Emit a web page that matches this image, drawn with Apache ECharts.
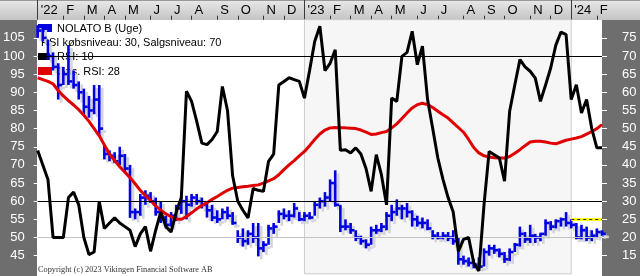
<!DOCTYPE html>
<html><head><meta charset="utf-8">
<script src="https://cdn.jsdelivr.net/npm/echarts@6/dist/echarts.min.js"></script>
<style>html,body{margin:0;padding:0;background:#fff}#c{width:640px;height:276px}</style>
</head><body><div id="c"></div>
<script>
const weeks = [
"2022-01-03","2022-01-10","2022-01-17","2022-01-24","2022-01-31","2022-02-07","2022-02-14","2022-02-21","2022-02-28","2022-03-07","2022-03-14","2022-03-21","2022-03-28","2022-04-04","2022-04-11","2022-04-18","2022-04-25","2022-05-02","2022-05-09","2022-05-16","2022-05-23","2022-05-30","2022-06-06","2022-06-13","2022-06-20","2022-06-27","2022-07-04","2022-07-11","2022-07-18","2022-07-25","2022-08-01","2022-08-08","2022-08-15","2022-08-22","2022-08-29","2022-09-05","2022-09-12","2022-09-19","2022-09-26","2022-10-03","2022-10-10","2022-10-17","2022-10-24","2022-10-31","2022-11-07","2022-11-14","2022-11-21","2022-11-28","2022-12-05","2022-12-12","2022-12-19","2022-12-26",
"2023-01-02","2023-01-09","2023-01-16","2023-01-23","2023-01-30","2023-02-06","2023-02-13","2023-02-20","2023-02-27","2023-03-06","2023-03-13","2023-03-20","2023-03-27","2023-04-03","2023-04-10","2023-04-17","2023-04-24","2023-05-01","2023-05-08","2023-05-15","2023-05-22","2023-05-29","2023-06-05","2023-06-12","2023-06-19","2023-06-26","2023-07-03","2023-07-10","2023-07-17","2023-07-24","2023-07-31","2023-08-07","2023-08-14","2023-08-21","2023-08-28","2023-09-04","2023-09-11","2023-09-18","2023-09-25","2023-10-02","2023-10-09","2023-10-16","2023-10-23","2023-10-30","2023-11-06","2023-11-13","2023-11-20","2023-11-27","2023-12-04","2023-12-11","2023-12-18","2023-12-25",
"2024-01-01","2024-01-08","2024-01-15","2024-01-22","2024-01-29","2024-02-05","2024-02-12"];
const monthLetters = ['J','F','M','A','M','J','J','A','S','O','N','D'];

const priceHigh = [
108.5,108,104.5,101,98,97,103,96,93,91,
89,92,92,75.5,74,73.5,75,73,70,58,
62,63,62.5,61,60,56,57,59,61,61.5,
62,62,61,59.5,59,57.5,58,58.5,57,52,
52.5,52,54,54,49,53.5,54,57.5,58,57.5,
59.5,57,57,57,60,61,62.5,66,68.5,59,
55,54,52,50.5,49.5,53,53.5,54,57,59,
60.5,59,59.5,57.5,56,55.5,55,52,51.5,51.5,
51.5,52,50,45,44.5,44,44.5,47,48,48,
47,46,47,48.5,53,51.5,53.5,51,51,55,
54.5,55,55.5,57,55,54,53.5,53,52,52.5,52];
const priceLow = [
105,104,99,96,88,92,92,91,88,84,
83,84,78,71.5,71,70.5,70,68,55.4,55,
56,59,59.5,56,54,52.5,53,54.5,56.5,55,
58.5,59,58,55.5,54.5,54,55,55,53.5,48.5,
47.5,48,48.5,44.8,46,48,51,54,55,54.5,
55.5,54.5,54.5,55,56,58,58.5,60,58.5,51.5,
52,51,49,48,47,48,51,51.5,52,54.5,
56,55,55.5,53,53,52.5,52,49.5,49.5,49.5,
49,48,42.5,42.5,42,41.5,41.5,42,45,45.5,
44.5,43,43.5,46,47.5,48.5,48.5,48.5,49,50.5,
52,52.5,53,53,52.5,49.5,49.5,49,49,50,50.5];
const priceClose = [
107,105,100,97,92,95,93,92,90,86,
85,88,80,73,72.5,71,72.5,69,57,57,
61,61.5,60,57,55.5,53.5,56,58,60,59,
61,60,59,57.5,55.5,55,57,56,54,50,
49,51,50,47,48,52.5,53,56.5,56,56,
58,55,56,55.5,59,60,61,65,59,53,
53,52,50,49,48,52,52,53,56,57,
58,58,57,55,54,54,52.5,50.5,50,50.5,
50,49,44,43.5,43,42.5,42,46,47,46.5,
45.5,44,46,48,51,49.5,50.5,50,51,54,
53,54.5,55,54,53.5,50,52,50,50.5,51.5,51];
const rsi10 = [
44,40,36,20,20,20,31,32.5,29,20,
15.3,16,30,22.5,24,25.4,24,23,22,17.5,
21,23,16.2,22,27,23,21.5,27,31,60.3,
57.5,52,46,45.6,47,49.2,61.6,55,37,30,
27.5,25.4,33.5,33,32.7,41,43,62,63,64,
63.5,63,58.4,66,74,78.2,66,68,71.7,44,
44.2,43.3,44.7,43,39,32.7,42.8,37.3,29,58.4,
57.5,69.9,71,76.8,67.6,72.7,58,50,41.9,36,
31,27,16.2,19.5,20,13,10.8,29,43.7,42.8,
41.9,35.5,54.8,62,69,67,65.8,63.9,57.5,62,
66.7,73,76.6,75.9,58,62.1,54.3,58,50,44.7,44.7];
const rsiAvg = [
64,63.5,63,62.3,60.5,59,57.7,56.5,55.2,53.7,
52,50,48,45.5,43,41.2,39.5,38,36.5,34.8,
33,31.5,30.2,28.7,27.5,26.5,25.7,25.1,25,25.8,
26.8,27.9,28.8,29.6,30.5,31.3,32.2,33,33.6,33.8,
34,34.1,34.3,34.5,35,35.6,36.2,37.3,38.7,40,
41.2,42.5,43.7,45.3,47,48.5,49.6,50.2,50.3,50.2,
50.2,50.1,50,49.6,49,48.4,48.5,48.9,49.2,50.2,
51.3,52.8,54.3,55.7,56.6,57,56.6,55.8,54.8,53.8,
52.9,51.6,50.3,49,47,44.8,43.3,42.5,42.2,42,
41.9,41.9,42.3,43.2,44.2,45.3,46.3,46.5,46.5,46.3,
46,45.8,46.3,46.8,47.1,47.4,47.8,48.5,49.2,50,51.1];
const rsiBuy = 30, rsiSell = 70, rsiGrid = 20, rsiMarker = 25;
const priceAxis = {min: 40, max: 110, step: 5};
const rsiAxis = {min: 10, max: 80, step: 5};
const legendTexts = ['NOLATO B (Uge)', 'RSI købsniveau: 30, Salgsniveau: 70', 'RSI: 10', 'Gns. RSI: 28'];
const copyrightText = 'Copyright (c) 2023 Vikingen Financial Software AB';

function monthOf(i){ return +weeks[i].slice(5,7); }
function isMonthStart(i){ return i === 0 || monthOf(i) !== monthOf(i-1); }
function isYearStart(i){ return i === 0 || weeks[i].slice(0,4) !== weeks[i-1].slice(0,4); }
function monthLabel(i){ const m = monthOf(i); return m === 1 ? "'" + weeks[i].slice(2,4) : monthLetters[m-1]; }
const yearStarts = weeks.map((w,i)=>i).filter(i=>i>0 && isYearStart(i));
const lastIdx = weeks.length - 1;

const FONT = 'Liberation Sans, Arial, sans-serif';
const blue = '#0000e0', red = '#e00000';
const ohlc = priceHigh.map((h,i)=>[i, h, priceLow[i], priceClose[i]]);

function barRender(dx, dy, color){
  return function(params, api){
    const i = api.value(0);
    const hi = api.coord([i, api.value(1)]);
    const lo = api.coord([i, api.value(2)]);
    const cl = api.coord([i, api.value(3)]);
    const w = api.size([1, 0])[0];
    const x = hi[0] + dx;
    return {type: 'group', children: [
      {type: 'line', shape: {x1: x, y1: hi[1] + dy, x2: x, y2: lo[1] + dy}, style: {stroke: color, lineWidth: 2.6}},
      {type: 'line', shape: {x1: x - 1, y1: cl[1] + dy, x2: x + w * 0.75, y2: cl[1] + dy}, style: {stroke: color, lineWidth: 2.6}}
    ]};
  };
}

const chart = echarts.init(document.getElementById('c'), null, {renderer: 'canvas'});
const L = 37, R = 602, T = 19.7;
chart.setOption({
  animation: false,
  backgroundColor: '#ffffff',
  grid: {left: L, right: 640 - R, top: T, bottom: 2.2, containLabel: false},
  xAxis: [
    {type: 'category', data: weeks, position: 'top', boundaryGap: false,
     axisLine: {show: false},
     axisTick: {show: true, length: 4, interval: (i)=>isMonthStart(i) && !isYearStart(i), lineStyle: {color: '#333', width: 1}},
     axisLabel: {show: true, interval: (i)=>isMonthStart(i), formatter: (v, i)=>monthLabel(i), align: 'left', padding: [0,0,0,3], margin: 3, fontSize: 13, color: '#000', fontFamily: FONT},
     splitLine: {show: false}},
    {type: 'category', data: weeks, position: 'top', boundaryGap: false,
     axisLine: {show: false},
     axisTick: {show: true, length: 20, interval: (i)=>isYearStart(i), lineStyle: {color: '#3a3a3a', width: 1}},
     axisLabel: {show: false}, splitLine: {show: false}}
  ],
  yAxis: [
    {type: 'value', position: 'left', min: priceAxis.min, max: priceAxis.max, interval: priceAxis.step,
     axisLine: {show: false}, axisTick: {show: true, length: 4, lineStyle: {color: '#fff'}},
     axisLabel: {color: '#fff', fontSize: 13, margin: 13, fontFamily: FONT, showMinLabel: false, showMaxLabel: false},
     splitLine: {show: false}},
    {type: 'value', position: 'right', min: rsiAxis.min, max: rsiAxis.max, interval: rsiAxis.step,
     axisLine: {show: false}, axisTick: {show: true, length: 5, lineStyle: {color: '#fff'}},
     axisLabel: {color: '#fff', fontSize: 13, margin: 20, fontFamily: FONT, showMinLabel: false, showMaxLabel: false},
     splitLine: {show: false}}
  ],
  graphic: [
    {type: 'rect', z: -10, shape: {x: L, y: T, width: R - L, height: 276 - T}, style: {fill: '#ffffff'}},
    {type: 'rect', z: -10, shape: {x: 0, y: 0, width: 640, height: 20}, style: {fill: new echarts.graphic.LinearGradient(0,0,0,1,[{offset:0,color:'#e8e8e8'},{offset:1,color:'#c4c4c4'}])}},
    {type: 'rect', z: -9, shape: {x: 0, y: 0, width: 640, height: 1}, style: {fill: '#9a9a9a'}},
    {type: 'rect', z: -10, shape: {x: 0, y: 20, width: L, height: 256}, style: {fill: '#6e6e6e'}},
    {type: 'rect', z: -10, shape: {x: R, y: 20, width: 640 - R, height: 256}, style: {fill: '#6e6e6e'}},
    {type: 'rect', z: 1, shape: {x: 38, y: 24, width: 14, height: 8}, style: {fill: blue}},
    {type: 'text', z: 1, style: {text: legendTexts[0], x: 57, y: 29, font: '11px ' + FONT, fill: '#000', textVerticalAlign: 'middle', verticalAlign: 'middle'}},
    {type: 'text', z: 1, style: {text: legendTexts[1], x: 41, y: 43, font: '11px ' + FONT, fill: '#000', textVerticalAlign: 'middle', verticalAlign: 'middle'}},
    {type: 'rect', z: 1, shape: {x: 38, y: 53, width: 12, height: 7}, style: {fill: '#000'}},
    {type: 'text', z: 1, style: {text: legendTexts[2], x: 57, y: 57, font: '11px ' + FONT, fill: '#000', textVerticalAlign: 'middle', verticalAlign: 'middle'}},
    {type: 'rect', z: 1, shape: {x: 38, y: 67, width: 14, height: 8}, style: {fill: red}},
    {type: 'text', z: 1, style: {text: legendTexts[3], x: 57, y: 71.5, font: '11px ' + FONT, fill: '#000', textVerticalAlign: 'middle', verticalAlign: 'middle'}},
    {type: 'text', z: 1, style: {text: copyrightText, x: 38, y: 270, font: '8.3px Liberation Serif, Times New Roman, serif', fill: '#333', textVerticalAlign: 'middle', verticalAlign: 'middle'}}
  ],
  series: [
    {type: 'line', name: 'levels', xAxisIndex: 0, yAxisIndex: 1, data: rsiAvg, z: 1, silent: true,
     showSymbol: false, lineStyle: {opacity: 0},
     markArea: {silent: true, itemStyle: {color: '#f6f6f6', borderColor: '#cccccc', borderWidth: 1},
       data: [[{xAxis: weeks[yearStarts[0]]}, {xAxis: weeks[yearStarts[1]]}]]},
     markLine: {silent: true, symbol: 'none', label: {show: false},
       data: [
         {yAxis: rsiGrid, lineStyle: {color: '#c4c4c4', width: 1, type: 'solid'}},
         {yAxis: rsiSell, lineStyle: {color: '#000', width: 1, type: 'solid'}},
         {yAxis: rsiBuy, lineStyle: {color: '#000', width: 1, type: 'solid'}},
         [{coord: [weeks[yearStarts[1]], rsiMarker], lineStyle: {color: '#ffff00', width: 3, type: 'solid'}}, {coord: [weeks[lastIdx], rsiMarker]}],
         [{coord: [weeks[yearStarts[1]], rsiMarker], lineStyle: {color: '#333', width: 1, type: [3, 3]}}, {coord: [weeks[lastIdx], rsiMarker]}]
       ]}},
    {type: 'custom', name: 'shadow', xAxisIndex: 0, yAxisIndex: 0, z: 2, silent: true,
     renderItem: barRender(3, 3, '#d4d4dc'), encode: {x: 0, y: [1, 2, 3]}, data: ohlc},
    {type: 'custom', name: 'NOLATO B', xAxisIndex: 0, yAxisIndex: 0, z: 3, silent: true,
     renderItem: barRender(0, 0, blue), encode: {x: 0, y: [1, 2, 3]}, data: ohlc},
    {type: 'line', name: 'Gns. RSI', xAxisIndex: 0, yAxisIndex: 1, data: rsiAvg, z: 4, silent: true,
     showSymbol: false, lineStyle: {color: red, width: 3}},
    {type: 'line', name: 'RSI', xAxisIndex: 0, yAxisIndex: 1, data: rsi10, z: 5, silent: true,
     showSymbol: false, lineStyle: {color: '#000', width: 3}}
  ]
});
</script></body></html>
